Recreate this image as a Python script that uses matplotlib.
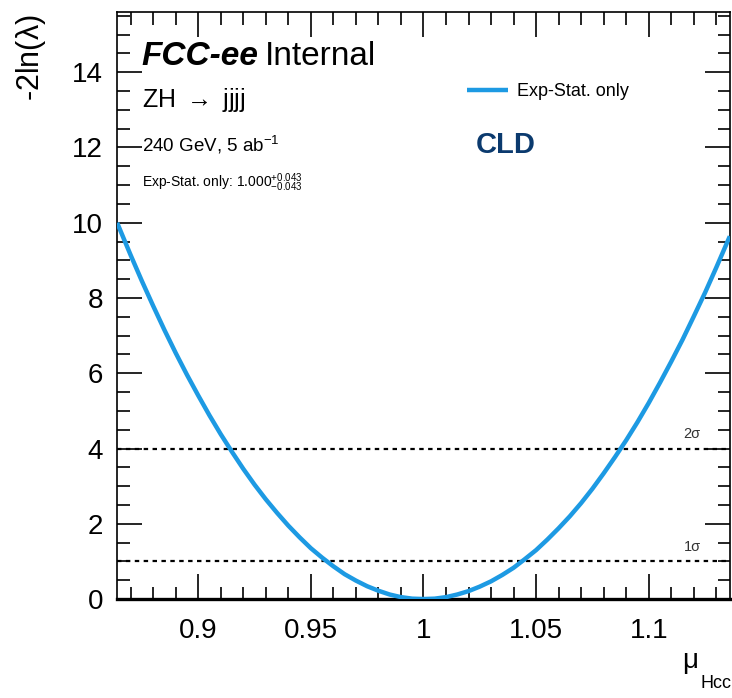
import matplotlib
matplotlib.use("Agg")
import matplotlib.pyplot as plt
from matplotlib.ticker import MultipleLocator

plt.rcParams["font.family"] = ["Liberation Sans", "DejaVu Sans"]
plt.rcParams["mathtext.fontset"] = "custom"
plt.rcParams["mathtext.rm"] = "Liberation Sans"
plt.rcParams["mathtext.it"] = "Liberation Sans"
plt.rcParams["mathtext.bf"] = "Liberation Sans:bold"

# Likelihood scan of the signal strength
mu_hcc = [0.864, 0.87, 0.875, 0.88, 0.885, 0.89, 0.895, 0.90, 0.905, 0.91,
          0.915, 0.92, 0.925, 0.93, 0.935, 0.94, 0.945, 0.95, 0.955, 0.96,
          0.965, 0.97, 0.975, 0.98, 0.985, 0.99, 0.995, 1.00, 1.005, 1.01,
          1.015, 1.02, 1.025, 1.03, 1.035, 1.04, 1.045, 1.05, 1.055, 1.06,
          1.065, 1.07, 1.075, 1.08, 1.085, 1.09, 1.095, 1.10, 1.105, 1.11,
          1.115, 1.12, 1.125, 1.13, 1.136]
nll = [10.00, 9.14, 8.45, 7.79, 7.15, 6.54, 5.96, 5.41, 4.88, 4.38,
       3.91, 3.46, 3.04, 2.65, 2.29, 1.95, 1.64, 1.35, 1.10, 0.87,
       0.66, 0.49, 0.34, 0.22, 0.12, 0.05, 0.01, 0.00, 0.01, 0.05,
       0.12, 0.21, 0.33, 0.47, 0.64, 0.83, 1.06, 1.30, 1.58, 1.88,
       2.20, 2.55, 2.93, 3.34, 3.77, 4.22, 4.70, 5.21, 5.75, 6.31,
       6.89, 7.51, 8.14, 8.81, 9.64]

sigma_levels = [1, 4]
sigma_labels = ["1σ", "2σ"]
x_range = (0.864, 1.136)
y_range = (0, 15.6)
x_ticks = [0.9, 0.95, 1.0, 1.05, 1.1]
x_ticklabels = ["0.9", "0.95", "1", "1.05", "1.1"]

line_color = "#1d9ae3"

fig = plt.figure(figsize=(7.32, 6.98), dpi=100)
ax = fig.add_axes([0.160, 0.1418, 0.837, 0.841])

ax.plot(mu_hcc, nll, color=line_color, lw=3.2, solid_capstyle="butt",
        solid_joinstyle="round", label="Exp-Stat. only", zorder=3)

for lvl, lab in zip(sigma_levels, sigma_labels):
    ax.axhline(lvl, color="black", lw=1.6, ls=(0, (2, 2)), zorder=2)
    ax.text(1.1155, lvl + 0.2, lab, fontsize=10.5, color="#333333",
            ha="left", va="bottom")

ax.set_xlim(*x_range)
ax.set_ylim(*y_range)
ax.set_xticks(x_ticks)
ax.set_xticklabels(x_ticklabels)
ax.xaxis.set_minor_locator(MultipleLocator(0.01))
ax.yaxis.set_major_locator(MultipleLocator(2))
ax.yaxis.set_minor_locator(MultipleLocator(0.5))

ax.tick_params(which="both", direction="in", top=True, right=True,
               labelsize=20, width=1.2, color="black")
ax.tick_params(which="major", length=18, pad=10)
ax.tick_params(which="minor", length=9)
ax.tick_params(axis="x", which="major", pad=14)

for side in ["left", "right", "top"]:
    ax.spines[side].set_linewidth(1.2)
ax.spines["bottom"].set_linewidth(2.4)

# Axis titles placed at the ends of the axes
fig.text(0.042, 0.980, r"-2ln($\lambda$)", rotation=90, fontsize=22,
         ha="center", va="top")
fig.text(0.943, 0.053, "μ", fontsize=20, ha="center", va="center")
fig.text(0.978, 0.021, "Hcc", fontsize=13, ha="center", va="center")

# Labels
ax.text(0.04, 0.925, "FCC-ee", transform=ax.transAxes, fontsize=24,
        fontweight="bold", fontstyle="italic", ha="left", va="center")
ax.text(0.2414, 0.925, "Internal", transform=ax.transAxes, fontsize=24,
        ha="left", va="center")
ax.text(0.04, 0.850, r"ZH $\rightarrow$ jjjj", transform=ax.transAxes,
        fontsize=18, ha="left", va="center")
ax.text(0.04, 0.773, r"240 GeV, 5 ab$^{\mathregular{-1}}$",
        transform=ax.transAxes, fontsize=13.5, ha="left", va="center")
ax.text(0.04, 0.710, r"Exp-Stat. only: 1.000$^{+0.043}_{-0.043}$",
        transform=ax.transAxes, fontsize=10, ha="left", va="center")
ax.text(0.586, 0.773, "CLD", transform=ax.transAxes, fontsize=21,
        fontweight="bold", color="#0b3a6e", ha="left", va="center")

ax.legend(loc="center left", bbox_to_anchor=(0.571, 0.864), frameon=False,
          fontsize=13, handlelength=2.27, handletextpad=0.5,
          borderpad=0, borderaxespad=0)

fig.savefig("out.png", dpi=100)
